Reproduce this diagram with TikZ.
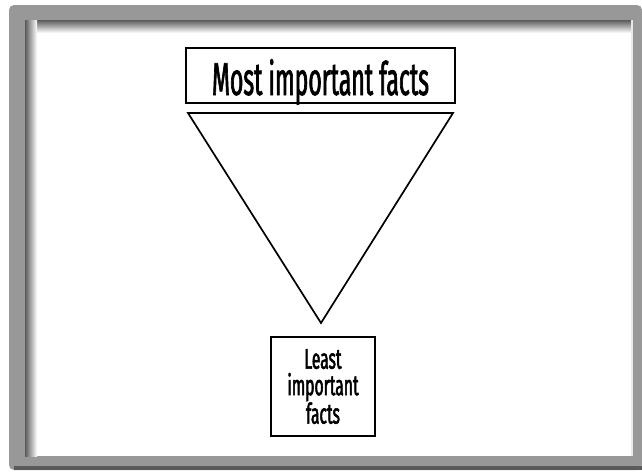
\documentclass[tikz,border=0pt]{standalone}
\usepackage{fontspec}
\usepackage{tikz}
\usetikzlibrary{positioning}
\newfontfamily\bigfactfont[FakeStretch=0.5,FakeBold=1.4]{Fira Sans}
\newfontfamily\smallfactfont[FakeStretch=0.55,FakeBold=1.8]{Fira Sans}
\definecolor{framegray}{RGB}{152,152,152}
\definecolor{framedark}{RGB}{90,90,90}
\tikzset{%
	factbox/.style = {draw, line width=1.7pt, rectangle, inner sep=0pt, text centered},
	funnel/.style  = {line width=1.7pt, line join=miter},
}

\begin{document}
\begin{tikzpicture}[x=1pt,y=-1pt]
	\useasboundingbox (0,0) rectangle (642,474);
	% frame
	\fill[framegray, rounded corners=5pt] (9,5) rectangle (642,470);
	\fill[framedark] (14,466) rectangle (642,470);
	\fill[white] (25,20) rectangle (631,456);
	\shade[top color=framedark, bottom color=white] (25,20) rectangle (631,33);
	\shade[left color=framedark, right color=white] (25,20) rectangle (37,456);
	\fill[white!80!framegray] (631,20) rectangle (633,456);
	
	\node[factbox, minimum width=269pt, minimum height=55pt, text height=39pt, text depth=0pt,
		font=\bigfactfont\fontsize{46}{48}\selectfont] (most) at (320.5,75.5) {Most important facts};
	\node[factbox, minimum width=104pt, minimum height=99pt, align=center,
		font=\smallfactfont\fontsize{28.5}{26.5}\selectfont] (least) at (323,386.5) {Least\\important\\facts};
	
	\draw[funnel] (188,113) -- (453,113) -- (321,323) -- cycle;
\end{tikzpicture}
\end{document}
